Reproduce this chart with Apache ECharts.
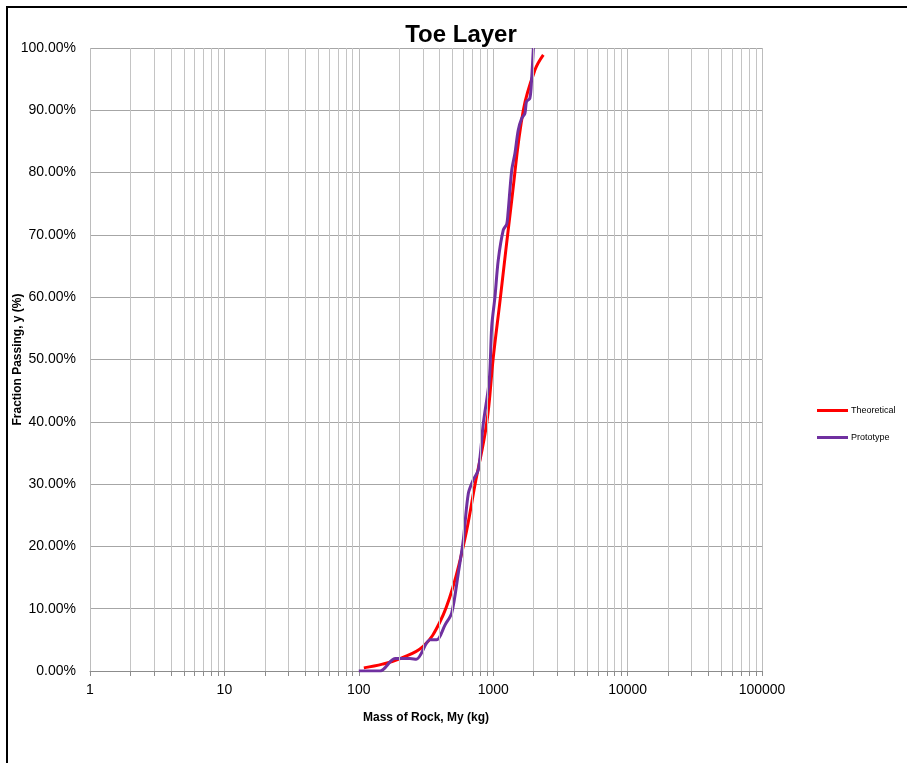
<!DOCTYPE html>
<html>
<head>
<meta charset="utf-8">
<script src="https://cdn.jsdelivr.net/npm/echarts@6/dist/echarts.min.js"></script>
<style>
  html, body { margin: 0; padding: 0; background: #ffffff; }
  #chart { width: 907px; height: 763px; }
</style>
</head>
<body>
<div id="chart"></div>
<script>
// Size distribution of the toe layer: mass (kg) vs. cumulative fraction passing (%)
const theoreticalMass = [109, 150, 203, 300, 402, 502, 617, 732, 895, 1000, 1125, 1374, 1675, 2047, 2360];
const theoreticalPass = [0.5, 1.1, 2.0, 3.9, 7.9, 13.5, 21.3, 29.9, 39.8, 50.2, 59.5, 75.6, 90.0, 96.5, 98.9];

const prototypeMass = [100, 144, 186, 240, 268, 339, 380, 438, 491, 550, 599, 653, 711, 775, 845, 935, 975, 1031, 1091, 1189, 1259, 1289, 1374, 1452, 1535, 1630, 1722, 1770, 1873, 1930, 1990];
const prototypePass = [0.0, 0.0, 2.0, 2.0, 1.9, 5.0, 5.0, 7.4, 9.3, 15.7, 21.0, 28.5, 30.7, 32.3, 39.8, 46.7, 55.3, 60.1, 66.0, 70.8, 71.7, 73.5, 80.4, 83.1, 86.8, 88.7, 89.5, 91.4, 91.9, 94.9, 100.0];

// Intermediate log-scale grid positions (2..9 within each decade)
const minorGridValues = [];
for (let d = 1; d <= 10000; d *= 10) {
  for (let m = 2; m <= 9; m++) minorGridValues.push(m * d);
}

const seriesNames = ['Theoretical', 'Prototype'];
const fontFamily = '"Liberation Sans", Arial, sans-serif';

const chart = echarts.init(document.getElementById('chart'), null, { renderer: 'canvas' });

chart.setOption({
  backgroundColor: '#ffffff',
  animation: false,
  graphic: [{
    type: 'rect',
    shape: { x: 7, y: 7, width: 1000, height: 1000 },
    style: { fill: 'none', stroke: '#000000', lineWidth: 2 },
    silent: true
  }],
  title: {
    text: 'Toe Layer',
    left: 461,
    top: 23,
    padding: 0,
    textAlign: 'center',
    textStyle: { fontFamily: fontFamily, fontSize: 24, fontWeight: 'bold', color: '#000000' }
  },
  legend: {
    data: seriesNames,
    orient: 'vertical',
    left: 817,
    top: 406,
    padding: 0,
    icon: 'rect',
    itemWidth: 31,
    itemHeight: 3,
    itemGap: 18,
    textStyle: { fontFamily: fontFamily, fontSize: 9, color: '#000000', padding: [0, 0, 0, -2] }
  },
  grid: { left: 90, right: 145, top: 48, bottom: 92, containLabel: false, outerBoundsMode: 'none' },
  xAxis: {
    type: 'log',
    logBase: 10,
    min: 1,
    max: 100000,
    name: 'Mass of Rock, My (kg)',
    nameLocation: 'middle',
    nameGap: 41,
    nameTextStyle: { fontFamily: fontFamily, fontSize: 12, fontWeight: 'bold', color: '#000000' },
    axisLine: { show: true, lineStyle: { color: '#8c8c8c', width: 1 } },
    axisTick: { show: true, length: 5, lineStyle: { color: '#8c8c8c' } },
    minorTick: { show: true, splitNumber: 9, length: 5, lineStyle: { color: '#8c8c8c' } },
    axisLabel: {
      fontFamily: fontFamily, fontSize: 14, color: '#000000', margin: 12,
      formatter: v => String(Math.round(v))
    },
    splitLine: { show: true, lineStyle: { color: '#bcbcbc', width: 1 } }
  },
  yAxis: {
    type: 'value',
    min: 0,
    max: 100,
    interval: 10,
    name: 'Fraction Passing, y (%)',
    nameLocation: 'middle',
    nameGap: 66,
    nameMoveOverlap: false,
    nameTextStyle: { fontFamily: fontFamily, fontSize: 12, fontWeight: 'bold', color: '#000000' },
    axisLine: { show: false },
    axisTick: { show: false },
    axisLabel: {
      fontFamily: fontFamily, fontSize: 14, color: '#000000', margin: 14,
      formatter: v => v.toFixed(2) + '%'
    },
    splitLine: { show: true, lineStyle: { color: '#a6a6a6', width: 1 } }
  },
  series: [
    {
      name: 'grid-minor',
      type: 'line',
      data: [],
      z: 1,
      silent: true,
      markLine: {
        silent: true,
        symbol: ['none', 'none'],
        label: { show: false },
        lineStyle: { color: '#c4c4c4', width: 1, type: 'solid' },
        emphasis: { disabled: true },
        data: minorGridValues.map(v => ({ xAxis: v }))
      }
    },
    {
      name: 'Theoretical',
      type: 'line',
      z: 3,
      smooth: 0.4,
      showSymbol: false,
      symbol: 'none',
      color: '#ff0000',
      lineStyle: { color: '#ff0000', width: 3 },
      data: theoreticalMass.map((m, i) => [m, theoreticalPass[i]])
    },
    {
      name: 'Prototype',
      type: 'line',
      z: 4,
      smooth: 0.3,
      showSymbol: false,
      symbol: 'none',
      color: '#7030a0',
      lineStyle: { color: '#7030a0', width: 3 },
      data: prototypeMass.map((m, i) => [m, prototypePass[i]])
    }
  ]
});
</script>
</body>
</html>
